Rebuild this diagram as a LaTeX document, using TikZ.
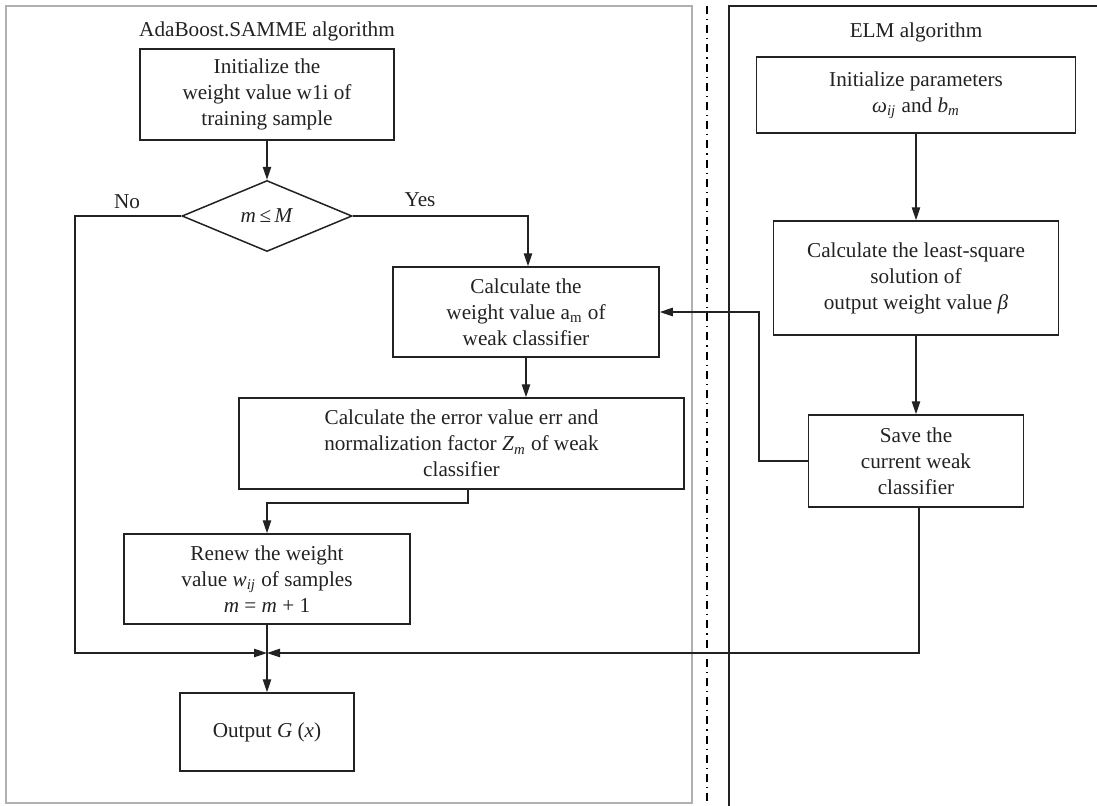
\documentclass[tikz,border=0pt]{standalone}
\usepackage{fontspec}
\setmainfont{Liberation Serif}
\usetikzlibrary{shapes.geometric,arrows.meta,calc}
\definecolor{ink}{HTML}{222222}
\definecolor{panelgray}{HTML}{B0B0B0}
\begin{document}
\begin{tikzpicture}[x=0.5pt,y=-0.5pt,
  font=\fontsize{10.6pt}{13pt}\selectfont,
  every node/.style={text=ink},
  box/.style={draw=ink,line width=0.75pt,rectangle,align=center,inner sep=0pt},
  dec/.style={draw=ink,line width=0.75pt,diamond,inner sep=0pt},
  conn/.style={draw=ink,line width=0.7pt},
  arr/.style={conn,-{Triangle[length=6.5pt,width=4.2pt]}},
  lbl/.style={inner sep=0pt}
]
\useasboundingbox (0,0) rectangle (1097,805);
% panels
\draw[panelgray,line width=0.7pt] (6,6) rectangle (692,803);
\draw[ink,line width=0.75pt] (1100,6) -- (729,6) -- (729,806);
\draw[black,line width=0.55pt,dash pattern=on 4pt off 2.5pt on 0.6pt off 2.5pt] (707,6) -- (707,803);
% titles
\node[lbl] (t1) at (267,31) {AdaBoost.SAMME algorithm};
\node[lbl] (t2) at (916,32) {ELM algorithm};
% left flow
\node[box,minimum width=127pt,minimum height=45.5pt] (b1) at (267,94.5)
  {Initialize the\\weight value w1i of\\training sample};
\node[dec,minimum width=85pt,minimum height=35.5pt] (dia) at (267,216)
  {\textit{m}\,≤\,\textit{M}};
\node[box,minimum width=133pt,minimum height=45pt] (b2) at (526,312)
  {Calculate the\\weight value a\textsubscript{m} of\\weak classifier};
\node[box,minimum width=222.5pt,minimum height=45.5pt] (b3) at (461.5,443.5)
  {Calculate the error value err and\\normalization factor \textit{Z}\textsubscript{\textit{m}} of weak\\classifier};
\node[box,minimum width=143pt,minimum height=45pt] (b4) at (267,579)
  {Renew the weight\\value \textit{w}\textsubscript{\textit{ij}} of samples\\\textit{m} = \textit{m} + 1};
\node[box,minimum width=87pt,minimum height=39pt] (b5) at (267,732)
  {Output \textit{G} (\textit{x})};
% right flow
\node[box,minimum width=159.5pt,minimum height=38pt] (e1) at (916,95)
  {Initialize parameters\\\textit{ω}\textsubscript{\textit{ij}} and \textit{b}\textsubscript{\textit{m}}};
\node[box,minimum width=142.5pt,minimum height=57pt] (e2) at (916,278)
  {Calculate the least-square\\solution of\\output weight value \textit{β}};
\node[box,minimum width=107.5pt,minimum height=46pt] (e3) at (916,461)
  {Save the\\current weak\\classifier};
% labels
\node[lbl] (no) at (127,202) {No};
\node[lbl] (yes) at (420,200) {Yes};
% helper coordinates
\coordinate (j) at (267,653);
\coordinate (nl) at (75,216);
\coordinate (yr) at (528,216);
\coordinate (t3) at (468,503);
\coordinate (fb) at (759,461);
\coordinate (sb) at (919,653);
% connectors
\draw[arr] (b1.south) -- (dia.north);
\draw[arr] (dia.east) -- (yr) -- (yr |- b2.north);
\draw[arr] (b2.south) -- (b2.south |- b3.north);
\draw[arr] (t3 |- b3.south) -- (t3) -| (b4.north);
\draw[conn] (b4.south) -- (j);
\draw[arr] (j) -- (b5.north);
\draw[arr] (dia.west) -- (nl) -- (nl |- j) -- (j);
\draw[arr] (e1.south) -- (e2.north);
\draw[arr] (e2.south) -- (e3.north);
\draw[arr] (e3.west) -- (fb) -- (fb |- b2.east) -- (b2.east);
\draw[arr] (sb |- e3.south) -- (sb) -- (j);
\end{tikzpicture}
\end{document}
